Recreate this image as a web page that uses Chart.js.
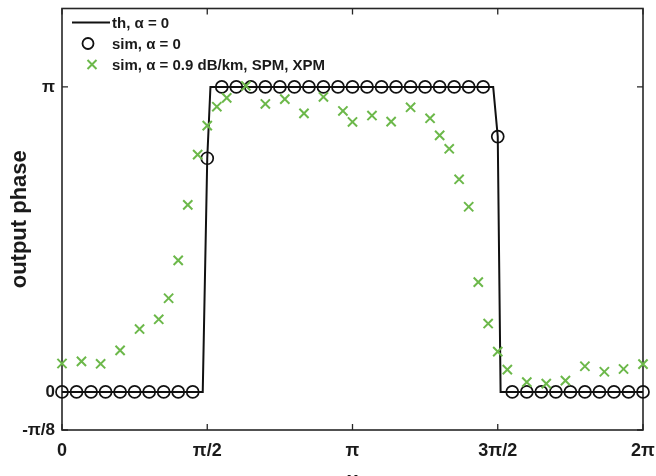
<!DOCTYPE html>
<html>
<head>
<meta charset="utf-8">
<script src="https://cdn.jsdelivr.net/npm/chart.js@4.4.1/dist/chart.umd.min.js"></script>
<style>
    html, body { margin: 0; padding: 0; background: #fff; }
    #wrap { position: relative; width: 656px; height: 476px; overflow: hidden; }
    #legend { position: absolute; left: 70px; top: 12px; font: bold 15px "Liberation Sans", Arial, sans-serif; color: #1a1a1a; }
    .row { display: flex; align-items: center; height: 21px; }
    .row svg { width: 40px; height: 21px; margin-right: 2px; }
</style>
</head>
<body>
<div id="wrap">
    <canvas id="chart" width="656" height="476"></canvas>
    <div id="legend">
        <div class="row"><svg viewBox="0 0 40 21"><line x1="2" y1="10.5" x2="40" y2="10.5" stroke="#111" stroke-width="2"/></svg>th, α = 0</div>
        <div class="row"><svg viewBox="0 0 40 21"><circle cx="18" cy="10.5" r="5.5" fill="none" stroke="#111" stroke-width="1.8"/></svg>sim, α = 0</div>
        <div class="row"><svg viewBox="0 0 40 21"><path d="M17.5 6 L26.5 15 M26.5 6 L17.5 15" stroke="#6cb84a" stroke-width="2"/></svg>sim, α = 0.9 dB/km, SPM, XPM</div>
    </div>
</div>
<script>
// all x and y values in units of pi
const xTicks = [0, 0.5, 1, 1.5, 2];
const xTickLabels = ['0', 'π/2', 'π', '3π/2', '2π'];
const yTicks = [-0.125, 0, 1];
const yTickLabels = ['-π/8', '0', 'π'];

// theory, alpha = 0
const thX = [0, 0.4845, 0.5, 0.511, 1.4843, 1.5, 1.5098, 2];
const thY = [0, 0, 0.766, 1, 1, 0.837, 0, 0];

// sim, alpha = 0
const simX = [0, 0.05, 0.1, 0.15, 0.2, 0.25, 0.3, 0.35, 0.4, 0.45,
              0.5, 0.55, 0.6, 0.65, 0.7, 0.75, 0.8, 0.85, 0.9, 0.95,
              1.0, 1.05, 1.1, 1.15, 1.2, 1.25, 1.3, 1.35, 1.4, 1.45,
              1.5, 1.55, 1.6, 1.65, 1.7, 1.75, 1.8, 1.85, 1.9, 1.95, 2.0];
const simY = [0, 0, 0, 0, 0, 0, 0, 0, 0, 0,
              0.766, 1, 1, 1, 1, 1, 1, 1, 1, 1,
              1, 1, 1, 1, 1, 1, 1, 1, 1, 1,
              0.837, 0, 0, 0, 0, 0, 0, 0, 0, 0, 0];

// sim, alpha = 0.9 dB/km, SPM, XPM
const lossX = [0, 0.067, 0.133, 0.2, 0.267, 0.333, 0.367, 0.4, 0.433, 0.467,
               0.5, 0.533, 0.567, 0.633, 0.7, 0.767, 0.833, 0.9, 0.967, 1.0,
               1.067, 1.133, 1.2, 1.267, 1.3, 1.333, 1.367, 1.4, 1.433, 1.467,
               1.5, 1.533, 1.6, 1.667, 1.733, 1.8, 1.867, 1.933, 2.0];
const lossY = [0.093, 0.100, 0.092, 0.136, 0.206, 0.238, 0.307, 0.431, 0.613, 0.778,
               0.873, 0.935, 0.964, 1.003, 0.944, 0.960, 0.913, 0.967, 0.921, 0.885,
               0.906, 0.886, 0.933, 0.897, 0.841, 0.797, 0.697, 0.607, 0.360, 0.224,
               0.132, 0.073, 0.032, 0.027, 0.037, 0.084, 0.066, 0.075, 0.091];

const toPoints = (xs, ys) => xs.map((x, i) => ({ x: x, y: ys[i] }));

const FONT = '"Liberation Sans", Arial, sans-serif';
const INK = '#1a1a1a';

// matlab style box with inward ticks on all four sides
const boxTicks = {
    id: 'boxTicks',
    beforeDatasetsDraw(chart) {
        const { ctx, chartArea: a, scales } = chart;
        const len = 6;
        ctx.save();
        ctx.strokeStyle = '#262626';
        ctx.lineWidth = 1.6;
        ctx.strokeRect(a.left, a.top, a.right - a.left, a.bottom - a.top);
        ctx.lineWidth = 1.3;
        ctx.beginPath();
        xTicks.forEach(v => {
            const px = scales.x.getPixelForValue(v);
            ctx.moveTo(px, a.bottom); ctx.lineTo(px, a.bottom - len);
            ctx.moveTo(px, a.top); ctx.lineTo(px, a.top + len);
        });
        yTicks.forEach(v => {
            const py = scales.y.getPixelForValue(v);
            ctx.moveTo(a.left, py); ctx.lineTo(a.left + len, py);
            ctx.moveTo(a.right, py); ctx.lineTo(a.right - len, py);
        });
        ctx.stroke();
        ctx.restore();
    }
};

new Chart(document.getElementById('chart'), {
    type: 'scatter',
    data: {
        datasets: [
            {
                label: 'sim, α = 0',
                data: toPoints(simX, simY),
                pointStyle: 'circle',
                pointRadius: 6,
                pointBorderWidth: 1.7,
                pointBorderColor: '#111',
                pointBackgroundColor: 'rgba(0,0,0,0)',
                clip: false,
                order: 2
            },
            {
                label: 'sim, α = 0.9 dB/km, SPM, XPM',
                data: toPoints(lossX, lossY),
                pointStyle: 'crossRot',
                pointRadius: 6.5,
                pointBorderWidth: 2,
                pointBorderColor: '#6cb84a',
                clip: false,
                order: 1
            },
            {
                label: 'th, α = 0',
                data: toPoints(thX, thY),
                showLine: true,
                borderColor: '#111',
                borderWidth: 2,
                pointRadius: 0,
                clip: false,
                order: 3
            }
        ]
    },
    options: {
        responsive: false,
        animation: false,
        events: [],
        layout: { padding: { top: 6, right: 13, left: 0, bottom: 0 } },
        plugins: {
            legend: { display: false },
            tooltip: { enabled: false }
        },
        scales: {
            x: {
                type: 'linear',
                min: 0,
                max: 2,
                afterBuildTicks: s => { s.ticks = xTicks.map(v => ({ value: v })); },
                afterFit: s => { s.height = 46; s.paddingLeft = 0; s.paddingRight = 0; },
                grid: { display: false, drawTicks: false },
                border: { display: false },
                ticks: {
                    padding: 10,
                    color: INK,
                    font: { family: FONT, size: 18, weight: 'bold' },
                    callback: v => xTickLabels[xTicks.indexOf(v)]
                },
                title: {
                    display: true,
                    text: 'x',
                    color: INK,
                    font: { family: FONT, size: 20, weight: 'bold' },
                    padding: { top: 0, bottom: -16 }
                }
            },
            y: {
                type: 'linear',
                min: -0.125,
                max: 1.257,
                afterBuildTicks: s => { s.ticks = yTicks.map(v => ({ value: v })); },
                afterFit: s => { s.width = 62; s.paddingTop = 0; s.paddingBottom = 0; },
                grid: { display: false, drawTicks: false },
                border: { display: false },
                ticks: {
                    padding: 7,
                    color: INK,
                    font: { family: FONT, size: 17, weight: 'bold' },
                    callback: v => yTickLabels[yTicks.indexOf(v)]
                },
                title: {
                    display: true,
                    text: 'output phase',
                    color: INK,
                    font: { family: FONT, size: 22, weight: 'bold' },
                    padding: { top: 7, bottom: 0 }
                }
            }
        }
    },
    plugins: [boxTicks]
});
</script>
</body>
</html>
